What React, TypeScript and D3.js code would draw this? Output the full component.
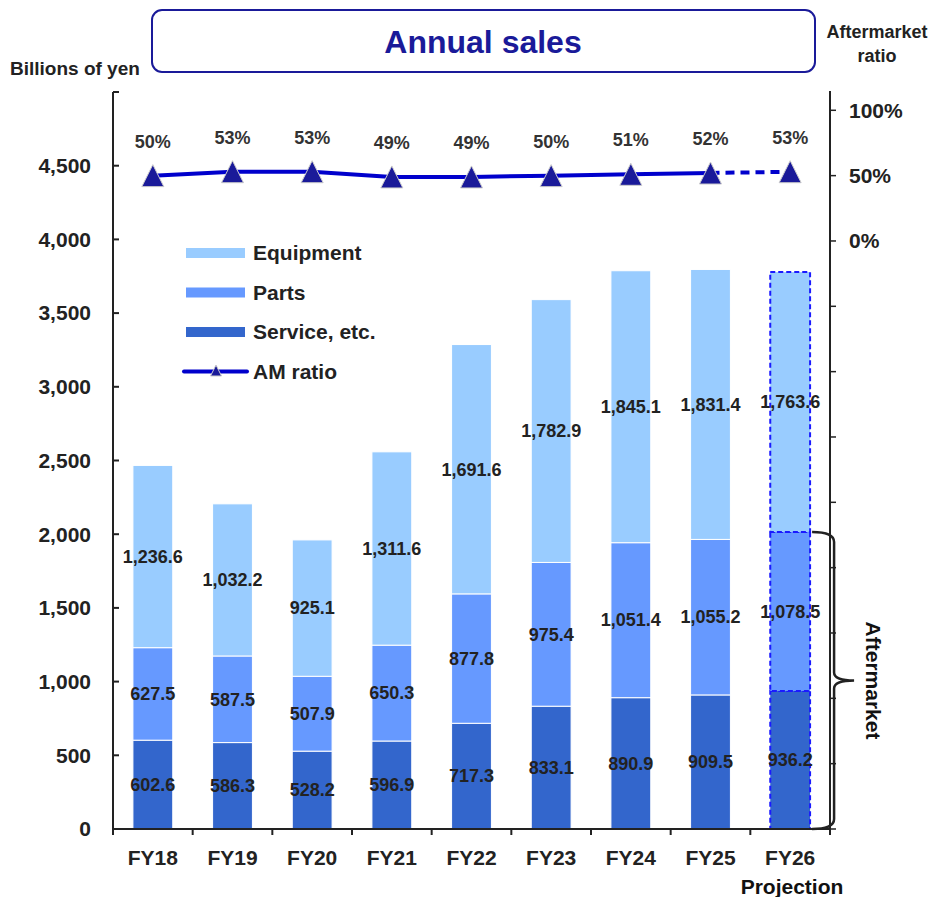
import React from 'react';
import * as d3 from 'd3';

// data
const years = ['FY18', 'FY19', 'FY20', 'FY21', 'FY22', 'FY23', 'FY24', 'FY25', 'FY26'];
const service = [602.6, 586.3, 528.2, 596.9, 717.3, 833.1, 890.9, 909.5, 936.2];
const parts = [627.5, 587.5, 507.9, 650.3, 877.8, 975.4, 1051.4, 1055.2, 1078.5];
const equipment = [1236.6, 1032.2, 925.1, 1311.6, 1691.6, 1782.9, 1845.1, 1831.4, 1763.6];
const amRatio = [0.5, 0.53, 0.53, 0.49, 0.49, 0.5, 0.51, 0.52, 0.53];
const leftTicks = d3.range(0, 5001, 500);
const rightTicks = d3.range(-4.5, 1.01, 0.5);
const rightLabels = [0, 0.5, 1];

const seriesKeys = ['service', 'parts', 'equipment'];
const seriesNames = { equipment: 'Equipment', parts: 'Parts', service: 'Service, etc.' };
const colors = { service: '#3366cc', parts: '#6699ff', equipment: '#99ccff' };
const lineColor = '#0000cc';
const markerColor = '#1a1a99';
const textColor = '#222';
const font = 'Liberation Sans, Arial, sans-serif';

const W = 933;
const H = 897;
const plot = { left: 113, right: 830, top: 92, bottom: 829 };

const fmt = d3.format(',.1f');
// triangle marker, a bit taller than equilateral like the original
const triPath = (s: number) => `M0,${-s / 2}L${s / 2},${s / 2}L${-s / 2},${s / 2}Z`;

export default function App() {
  const rows = years.map((y, i) => ({
    year: y,
    service: service[i],
    parts: parts[i],
    equipment: equipment[i],
  }));
  const stacked = d3.stack<any>().keys(seriesKeys)(rows);

  const x = d3.scaleBand().domain(years).range([plot.left, plot.right]).paddingInner(0.5).paddingOuter(0.25);
  const xb = d3.scaleBand().domain(years).range([plot.left, plot.right]);
  const yL = d3.scaleLinear().domain([0, 5000]).range([plot.bottom, plot.top]);
  const yR = d3.scaleLinear().domain([-4.5, 1.14]).range([plot.bottom, plot.top]);
  const bw = x.bandwidth();
  const cx = (y: string) => (xb(y) as number) + xb.bandwidth() / 2;

  const n = years.length;
  const solidPath = d3
    .line<number>()
    .x((_, i) => cx(years[i]))
    .y((d) => yR(d))(amRatio.slice(0, n - 1));
  const dashPath = d3
    .line<number>()
    .x((_, i) => cx(years[n - 2 + i]))
    .y((d) => yR(d))(amRatio.slice(n - 2));

  // aftermarket brace for the projection year
  const last = years[n - 1];
  const bx0 = (x(last) as number) + bw + 2;
  const bx = bx0 + 22;
  const bTop = yL(service[n - 1] + parts[n - 1]);
  const bBot = yL(0);
  const bMid = (bTop + bBot) / 2;
  const brace = `M${bx0},${bTop} Q${bx},${bTop} ${bx},${bTop + 10} L${bx},${bMid - 8} Q${bx},${bMid} ${bx + 20},${bMid} Q${bx},${bMid} ${bx},${bMid + 8} L${bx},${bBot - 10} Q${bx},${bBot} ${bx0},${bBot}`;

  const legendItems = ['equipment', 'parts', 'service'];

  return (
    <svg width={W} height={H} style={{ position: 'absolute', left: 0, top: 0, background: '#fff' }} fontFamily={font}>
      {/* title box */}
      <rect x={152} y={10} width={663} height={62} rx={10} fill="#fff" stroke={markerColor} strokeWidth={2} />
      <text x={483} y={53} textAnchor="middle" fontWeight="bold" fontSize={32} fill={markerColor}>
        Annual sales
      </text>
      <text x={10} y={75} fontWeight="bold" fontSize={19} fill={textColor}>
        Billions of yen
      </text>
      <text x={877} y={38} textAnchor="middle" fontWeight="bold" fontSize={18} fill={textColor}>
        Aftermarket
      </text>
      <text x={877} y={62} textAnchor="middle" fontWeight="bold" fontSize={18} fill={textColor}>
        ratio
      </text>

      {/* bars */}
      {stacked.map((s) => (
        <g key={s.key}>
          {s.map((d, i) => {
            const proj = i === n - 1;
            return (
              <rect
                key={years[i]}
                x={x(years[i])}
                y={yL(d[1])}
                width={bw}
                height={yL(d[0]) - yL(d[1])}
                fill={(colors as any)[s.key]}
                stroke={proj ? '#1a1aff' : '#fff'}
                strokeWidth={proj ? 2 : 1}
                strokeDasharray={proj ? '5 3' : undefined}
              />
            );
          })}
        </g>
      ))}
      {stacked.map((s) =>
        s.map((d, i) => (
          <text
            key={s.key + years[i]}
            x={cx(years[i])}
            y={yL((d[0] + d[1]) / 2)}
            dy="0.35em"
            textAnchor="middle"
            fontWeight="bold"
            fontSize={18}
            fill={textColor}
          >
            {fmt(d[1] - d[0])}
          </text>
        ))
      )}

      {/* left axis */}
      <line x1={plot.left} x2={plot.left} y1={plot.top} y2={plot.bottom} stroke="#222" strokeWidth={2} />
      {leftTicks.map((t) => (
        <g key={t}>
          <line x1={plot.left} x2={plot.left + 6} y1={yL(t)} y2={yL(t)} stroke="#222" strokeWidth={2} />
          {t < 5000 && (
            <text x={91} y={yL(t)} dy="0.35em" textAnchor="end" fontWeight="bold" fontSize={21} fill={textColor}>
              {d3.format(',')(t)}
            </text>
          )}
        </g>
      ))}

      {/* right axis */}
      <line x1={plot.right} x2={plot.right} y1={plot.top - 1} y2={plot.bottom} stroke="#222" strokeWidth={2} />
      {rightTicks.map((t) => (
        <line key={t} x1={plot.right} x2={plot.right + 6} y1={yR(t)} y2={yR(t)} stroke="#222" strokeWidth={1.5} />
      ))}
      {rightLabels.map((t) => (
        <text key={t} x={849} y={yR(t)} dy="0.35em" fontWeight="bold" fontSize={21} fill={textColor}>
          {d3.format('.0%')(t)}
        </text>
      ))}

      {/* x axis */}
      <line x1={plot.left} x2={plot.right} y1={plot.bottom} y2={plot.bottom} stroke="#222" strokeWidth={2} />
      {years.map((y) => (
        <g key={y}>
          <line x1={(xb(y) as number) + xb.bandwidth()} x2={(xb(y) as number) + xb.bandwidth()} y1={plot.bottom} y2={plot.bottom + 6} stroke="#222" strokeWidth={2} />
          <text x={cx(y)} y={865} textAnchor="middle" fontWeight="bold" fontSize={21} fill={textColor}>
            {y}
          </text>
        </g>
      ))}
      <line x1={plot.left} x2={plot.left} y1={plot.bottom} y2={plot.bottom + 6} stroke="#222" strokeWidth={2} />
      <text x={792} y={894} textAnchor="middle" fontWeight="bold" fontSize={21} fill="#111">
        Projection
      </text>

      {/* brace */}
      <path d={brace} fill="none" stroke="#222" strokeWidth={2.5} />
      <text
        transform={`translate(${bx + 39},${bMid}) rotate(90)`}
        textAnchor="middle"
        dy="0.35em"
        fontWeight="bold"
        fontSize={21}
        fill="#111"
      >
        Aftermarket
      </text>

      {/* AM ratio line */}
      <path d={solidPath as string} fill="none" stroke={lineColor} strokeWidth={4} />
      <path d={dashPath as string} fill="none" stroke={lineColor} strokeWidth={4} strokeDasharray="9 6" />
      {amRatio.map((r, i) => (
        <g key={years[i]}>
          <path d={triPath(22)} transform={`translate(${cx(years[i])},${yR(r)})`} fill={markerColor} stroke="#ccc" strokeWidth={1} />
          <text x={cx(years[i])} y={yR(r) - 28} textAnchor="middle" fontWeight="bold" fontSize={18} fill="#333">
            {d3.format('.0%')(r)}
          </text>
        </g>
      ))}

      {/* legend */}
      {legendItems.map((k, i) => (
        <g key={k} transform={`translate(186,${253 + i * 39.5})`}>
          <rect x={0} y={-5} width={59} height={10} fill={(colors as any)[k]} />
          <text x={67} y={0} dy="0.35em" fontWeight="bold" fontSize={21} fill={textColor}>
            {(seriesNames as any)[k]}
          </text>
        </g>
      ))}
      <g transform="translate(186,371.5)">
        <line x1={-2} x2={61} y1={0} y2={0} stroke={lineColor} strokeWidth={4} strokeLinecap="round" />
        <path d={triPath(11)} transform="translate(30,-1)" fill={markerColor} stroke="#ccc" strokeWidth={1} />
        <text x={67} y={0} dy="0.35em" fontWeight="bold" fontSize={21} fill={textColor}>
          AM ratio
        </text>
      </g>
    </svg>
  );
}
